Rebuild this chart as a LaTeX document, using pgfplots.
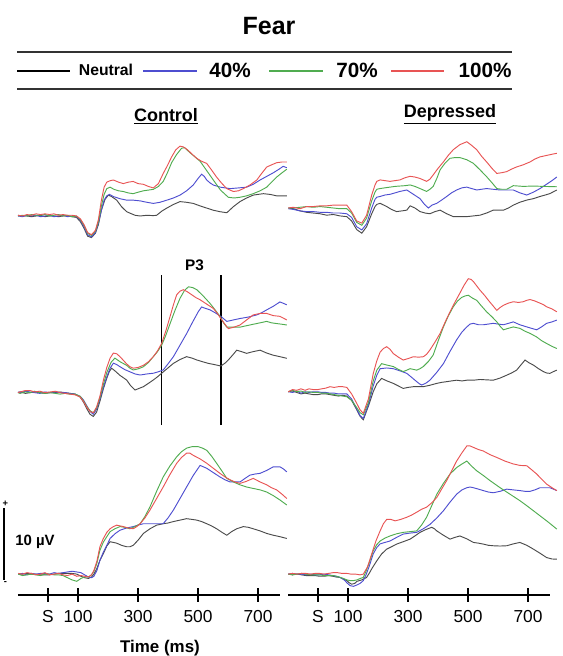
\documentclass[border=0pt]{standalone}
\usepackage{pgfplots}
\pgfplotsset{compat=1.18}
\usepackage{fontspec}
\setmainfont{Liberation Sans}
\definecolor{cred}{RGB}{232,84,84}
\definecolor{cgreen}{RGB}{80,172,80}
\definecolor{cblue}{RGB}{78,78,208}
\definecolor{cblack}{RGB}{75,75,75}
\pgfplotsset{
  panel/.style={x=0.225pt, y=5.4pt, xmin=-100, xmax=800, ymin=-5, ymax=20,
    hide axis, clip=false, anchor=south west},
  bpanel/.style={x=0.225pt, y=5.4pt, xmin=-100, xmax=773, ymin=-2.9, ymax=20,
    axis x line=bottom, axis y line=none, clip=false, anchor=south west,
    xtick={0,100,300,500,700}, xticklabels={S,100,300,500,700},
    tick align=center, major tick length=10pt,
    x axis line style={-, line width=0.9pt, black},
    every tick/.style={black, line width=0.9pt},
    xticklabel style={font=\fontsize{13}{15}\selectfont, anchor=center},
    xticklabel shift=11.3pt,
    /pgf/number format/assume math mode=true},
  rd/.style={cred, line width=0.7pt},
  gr/.style={cgreen, line width=0.7pt},
  bl/.style={cblue, line width=0.7pt},
  bk/.style={cblack, line width=0.7pt},
}
\begin{document}
\begin{tikzpicture}
\path[use as bounding box] (0,0) rectangle (421.5pt,492pt);
% title and legend
\node[font=\bfseries\fontsize{18.75}{22}\selectfont] at (201.75pt,472.5pt) {Fear};
\draw[line width=1.1pt, black!80] (12.75pt,453pt) -- (384pt,453pt);
\draw[line width=1.1pt, black!80] (12.75pt,425.25pt) -- (384pt,425.25pt);
\draw[line width=0.9pt, black] (12.75pt,438.75pt) -- (52.5pt,438.75pt);
\node[font=\bfseries\fontsize{11.8}{14}\selectfont] at (79.5pt,439.5pt) {Neutral};
\draw[line width=0.9pt, cblue] (107.25pt,438.75pt) -- (147.75pt,438.75pt);
\node[font=\bfseries\fontsize{15.5}{18}\selectfont] at (172.5pt,439.5pt) {40\%};
\draw[line width=0.9pt, cgreen] (201.75pt,438.75pt) -- (242.25pt,438.75pt);
\node[font=\bfseries\fontsize{15.5}{18}\selectfont] at (267.75pt,439.5pt) {70\%};
\draw[line width=0.9pt, cred] (293.25pt,438.75pt) -- (333pt,438.75pt);
\node[font=\bfseries\fontsize{15.5}{18}\selectfont] at (363.75pt,439.5pt) {100\%};
\node[font=\bfseries\fontsize{13.5}{16}\selectfont] at (124.5pt,405pt) {\underline{Control}};
\node[font=\bfseries\fontsize{13.5}{16}\selectfont] at (337.5pt,406.5pt) {\underline{Depressed}};

% ---------- Top left: Control row 1
\begin{axis}[panel, at={(13.5pt,303pt)}]
\addplot[bk] coordinates {(-100,0.1) (-85,0.0) (-70,0.0) (-55,-0.1) (-40,0.0) (-25,0.1) (-10,-0.1) (5,0.0) (20,0.0) (35,-0.1) (50,0.0) (65,0.0) (80,-0.1) (95,-0.2) (108,-0.8) (120,-1.7) (132,-2.8) (145,-3.0) (158,-2.4) (168,-1.2) (178,0.8) (190,2.3) (201,2.9) (212,2.7) (229,2.2) (245,1.3) (262,0.6) (273,0.4) (290,0.1) (307,0.0) (330,0.1) (351,0.05) (362,0.1) (380,0.7) (396,1.1) (418,1.6) (440,2.0) (462,1.9) (484,1.75) (507,1.4) (529,1.1) (551,0.8) (573,0.6) (596,0.45) (618,1.3) (640,2.0) (662,2.5) (684,2.9) (700,3.0) (718,3.1) (740,3.0) (762,2.8) (796,2.8)};
\addplot[bl] coordinates {(-100,0.0) (-85,-0.1) (-70,0.1) (-55,0.0) (-40,0.1) (-25,-0.1) (-10,0.0) (5,0.1) (20,-0.1) (35,0.0) (50,0.1) (65,-0.1) (80,0.0) (95,-0.1) (108,-0.6) (120,-1.5) (132,-2.6) (145,-2.9) (158,-2.3) (168,-1.0) (178,0.8) (187,2.2) (196,2.8) (205,3.0) (218,2.7) (240,2.4) (262,2.2) (284,2.2) (307,2.1) (330,1.9) (351,1.75) (373,1.9) (396,2.2) (418,2.5) (440,2.9) (462,3.5) (484,4.3) (500,5.2) (512,5.8) (521,5.5) (529,5.0) (540,4.6) (551,4.3) (575,4.0) (607,3.8) (635,3.9) (662,4.0) (684,4.4) (707,5.0) (729,5.5) (751,6.0) (770,6.5) (784,6.9) (796,6.7)};
\addplot[gr] coordinates {(-100,0.0) (-85,0.1) (-70,0.0) (-55,0.2) (-40,0.1) (-25,0.1) (-10,0.2) (5,0.0) (20,0.1) (35,0.2) (50,0.0) (65,0.1) (80,-0.1) (95,0.0) (108,-0.5) (120,-1.3) (132,-2.4) (145,-2.7) (158,-2.1) (168,-0.8) (178,1.4) (187,3.0) (196,3.8) (207,4.0) (220,3.7) (235,3.5) (251,3.4) (268,3.2) (284,3.1) (300,3.3) (318,3.5) (335,3.6) (351,3.7) (368,4.1) (384,4.8) (398,6.0) (412,7.4) (428,8.5) (445,9.4) (455,9.5) (473,8.8) (490,8.2) (507,7.6) (529,6.3) (551,5.0) (575,3.6) (601,2.6) (620,2.5) (640,2.6) (662,2.8) (684,3.1) (707,3.5) (729,4.0) (745,4.7) (762,5.4) (780,6.0) (796,6.5)};
\addplot[rd] coordinates {(-100,0.1) (-85,0.0) (-70,0.2) (-55,0.1) (-40,0.3) (-25,0.2) (-10,0.3) (5,0.2) (20,0.3) (35,0.1) (50,0.2) (65,0.1) (80,0.1) (95,0.0) (108,-0.4) (120,-1.2) (132,-2.3) (145,-2.6) (158,-2.0) (168,-0.5) (178,2.2) (187,4.0) (196,4.7) (207,4.9) (218,5.0) (235,4.7) (251,4.5) (268,4.7) (284,4.8) (300,4.5) (318,4.4) (335,4.1) (351,3.9) (368,4.5) (384,5.9) (398,7.0) (412,8.2) (426,9.2) (440,9.7) (451,9.6) (465,9.2) (480,8.6) (496,8.0) (512,7.6) (529,7.3) (545,6.4) (562,5.4) (580,4.5) (596,3.8) (618,3.4) (635,3.5) (651,3.8) (673,4.3) (696,5.0) (712,5.9) (729,6.8) (745,7.1) (762,7.4) (780,7.5) (796,7.5)};
\end{axis}

% ---------- Top right: Depressed row 1
\begin{axis}[panel, at={(216pt,309pt)}]
\addplot[bk] coordinates {(-99,0.0) (-82,-0.1) (-60,-0.4) (-38,-0.6) (-16,-0.7) (7,-0.8) (29,-1.0) (51,-0.9) (73,-1.1) (96,-1.2) (112,-1.8) (129,-3.0) (146,-3.5) (162,-2.6) (179,-0.8) (190,0.2) (196,0.5) (207,0.65) (229,0.2) (245,-0.2) (262,-0.5) (280,-0.4) (296,-0.3) (307,0.3) (323,0.0) (340,-0.5) (357,-0.7) (373,-0.8) (390,-0.5) (407,-0.3) (429,-0.8) (451,-1.2) (473,-1.2) (496,-1.2) (518,-1.1) (540,-1.0) (562,-0.7) (584,-0.3) (600,-0.3) (618,-0.3) (635,0.0) (651,0.4) (673,0.8) (696,1.1) (718,1.3) (740,1.6) (757,1.8) (773,2.0) (796,2.5)};
\addplot[bl] coordinates {(-99,-0.1) (-82,-0.2) (-60,-0.4) (-38,-0.5) (-16,-0.5) (7,-0.6) (29,-0.6) (51,-0.7) (73,-0.7) (96,-0.8) (112,-1.3) (129,-2.6) (146,-3.05) (162,-2.2) (179,0.0) (190,1.2) (196,1.5) (207,1.6) (223,1.8) (240,1.9) (257,2.1) (273,2.3) (296,2.5) (318,1.9) (340,1.3) (355,0.5) (368,0.0) (380,0.4) (396,0.65) (412,1.1) (429,1.6) (445,2.1) (462,2.5) (480,2.8) (496,2.9) (512,2.7) (529,2.5) (545,2.6) (562,2.7) (584,2.6) (607,2.5) (629,2.5) (651,2.5) (673,2.1) (696,1.8) (718,2.2) (740,2.7) (762,3.3) (780,3.8) (796,4.3)};
\addplot[gr] coordinates {(-99,0.0) (-82,0.0) (-60,0.1) (-38,0.2) (-16,0.1) (7,0.2) (29,0.1) (51,0.0) (73,-0.1) (96,-0.1) (112,-0.7) (129,-2.0) (146,-2.4) (162,-1.4) (179,1.0) (190,2.2) (196,2.6) (207,2.7) (223,2.8) (240,2.9) (257,3.0) (273,3.05) (290,3.1) (307,3.2) (323,3.0) (340,2.7) (351,2.5) (362,2.3) (373,2.6) (384,3.0) (396,4.1) (407,5.3) (423,6.2) (440,6.9) (456,7.0) (473,7.0) (496,6.7) (518,6.2) (540,5.3) (562,4.35) (580,3.5) (596,2.7) (612,2.6) (629,2.6) (651,3.1) (684,3.0) (718,3.05) (750,3.0) (796,2.95)};
\addplot[rd] coordinates {(-99,0.0) (-82,0.1) (-60,-0.1) (-38,0.2) (-16,0.2) (7,0.3) (29,0.3) (51,0.4) (73,0.4) (96,0.4) (112,-0.5) (129,-1.8) (146,-2.1) (162,-1.0) (179,1.8) (190,3.2) (196,3.7) (207,3.9) (223,3.8) (240,3.7) (257,3.8) (273,3.9) (290,4.2) (307,4.4) (323,4.3) (340,4.1) (351,3.9) (362,3.7) (373,4.0) (384,4.6) (400,5.5) (418,6.4) (434,7.3) (451,8.1) (473,8.8) (496,9.2) (512,8.7) (529,8.1) (545,7.2) (562,6.4) (580,5.5) (596,4.8) (612,4.9) (629,5.05) (645,5.4) (662,5.7) (684,6.0) (707,6.4) (723,6.8) (740,7.1) (762,7.3) (784,7.5) (796,7.6)};
\end{axis}

% ---------- Middle left: Control row 2
\begin{axis}[panel, at={(13.5pt,170.5pt)}]
\draw[line width=1.05pt, black] (axis cs:379,-4.5) -- (axis cs:379,16.3);
\draw[line width=1.05pt, black] (axis cs:576,-4.5) -- (axis cs:576,16.3);
\node[font=\bfseries\fontsize{11.5}{13}\selectfont] at (axis cs:488,17.7) {P3};
\addplot[bk] coordinates {(-100,0.0) (-93,0.1) (-75,-0.1) (-60,0.0) (-45,0.1) (-27,0.0) (-10,-0.1) (7,0.0) (25,0.0) (40,0.1) (57,0.0) (73,-0.1) (90,-0.2) (107,-0.6) (118,-1.3) (129,-2.2) (140,-3.0) (151,-3.3) (162,-2.7) (173,-1.2) (185,0.6) (196,2.0) (204,2.9) (212,3.4) (224,3.0) (240,2.4) (262,1.76) (275,1.0) (290,0.37) (304,0.6) (318,0.83) (335,1.3) (351,1.76) (365,2.2) (379,2.7) (396,3.3) (418,4.07) (440,4.6) (462,5.0) (480,4.8) (496,4.54) (515,4.3) (534,4.07) (555,3.9) (576,3.7) (590,4.1) (601,4.54) (615,5.2) (629,5.9) (645,5.7) (662,5.46) (684,5.7) (707,5.9) (729,5.5) (751,5.2) (773,5.0) (796,4.77)};
\addplot[bl] coordinates {(-100,0.1) (-93,0.0) (-75,0.2) (-60,0.1) (-45,0.0) (-27,-0.1) (-10,0.1) (7,0.0) (25,0.1) (40,0.0) (57,0.0) (73,-0.1) (90,-0.2) (107,-0.5) (118,-1.0) (129,-1.8) (140,-2.6) (151,-3.0) (162,-2.3) (173,-0.9) (185,0.8) (196,2.2) (207,3.4) (218,4.1) (229,3.9) (240,3.6) (256,3.2) (273,2.9) (290,2.6) (307,2.45) (330,2.6) (351,2.7) (368,2.9) (384,3.15) (400,4.0) (418,5.0) (440,6.6) (462,8.2) (482,9.8) (501,11.25) (512,11.9) (525,11.7) (540,11.5) (557,11.1) (576,10.6) (596,9.9) (618,10.1) (640,10.3) (668,10.5) (696,10.8) (712,11.1) (729,11.5) (751,12.0) (773,12.6) (785,12.4) (796,12.2)};
\addplot[gr] coordinates {(-100,0.0) (-93,-0.1) (-75,0.1) (-60,0.0) (-45,0.2) (-27,0.0) (-10,-0.1) (7,0.0) (25,-0.1) (40,-0.2) (57,-0.1) (73,-0.2) (90,-0.2) (107,-0.5) (118,-1.1) (129,-1.9) (140,-2.5) (151,-2.8) (162,-2.1) (173,-0.7) (185,1.2) (196,2.8) (210,4.2) (223,4.8) (240,4.3) (262,3.8) (273,3.4) (284,3.15) (300,3.3) (318,3.6) (335,4.2) (351,5.0) (365,5.7) (379,6.6) (393,8.0) (407,9.6) (423,11.4) (440,13.1) (455,14.2) (468,14.7) (482,14.6) (496,14.3) (518,13.4) (540,12.4) (557,11.5) (573,10.6) (585,9.7) (596,9.1) (618,9.1) (640,9.1) (662,9.3) (684,9.5) (707,9.7) (729,9.9) (745,9.7) (762,9.6) (780,9.5) (796,9.4)};
\addplot[rd] coordinates {(-100,0.0) (-93,0.1) (-75,0.3) (-60,0.3) (-45,0.1) (-27,0.2) (-10,0.0) (7,0.1) (25,0.2) (40,0.0) (57,-0.1) (73,-0.2) (90,-0.3) (107,-0.6) (118,-1.2) (129,-2.0) (140,-2.6) (151,-2.8) (162,-2.0) (173,-0.5) (185,1.8) (196,3.5) (207,4.8) (218,5.5) (229,5.4) (240,5.0) (251,4.5) (262,4.0) (273,3.6) (284,3.4) (300,3.5) (318,3.8) (335,4.3) (351,5.0) (365,5.8) (379,6.85) (393,8.6) (407,10.6) (418,12.2) (429,13.6) (440,14.1) (451,14.3) (465,14.0) (479,13.6) (493,13.2) (507,12.9) (529,12.3) (551,11.7) (563,11.1) (576,10.3) (590,9.5) (601,8.9) (620,9.1) (640,9.4) (662,10.1) (684,10.8) (707,11.0) (729,11.0) (751,10.7) (773,10.6) (796,10.1)};
\end{axis}

% ---------- Middle right: Depressed row 2
\begin{axis}[panel, at={(216pt,171.2pt)}]
\addplot[bk] coordinates {(-99,0.0) (-85,0.1) (-71,-0.1) (-57,-0.3) (-43,-0.2) (-30,-0.3) (-16,-0.4) (0,-0.4) (12,-0.3) (26,-0.3) (40,-0.4) (54,-0.5) (68,-0.6) (82,-0.5) (96,-0.6) (112,-1.2) (129,-2.5) (140,-3.4) (151,-3.9) (168,-2.0) (184,0.0) (196,1.1) (212,1.85) (230,1.5) (251,1.16) (268,0.8) (284,0.46) (300,0.6) (318,0.7) (335,0.7) (351,0.7) (373,0.9) (396,1.16) (412,1.3) (429,1.4) (445,1.5) (462,1.6) (480,1.5) (496,1.6) (518,1.6) (540,1.7) (562,1.65) (584,1.6) (607,1.9) (629,2.3) (645,2.6) (662,3.0) (676,3.7) (690,4.4) (704,4.0) (718,3.7) (735,3.2) (751,2.8) (762,2.6) (773,2.55) (785,2.8) (796,3.0)};
\addplot[bl] coordinates {(-99,0.0) (-85,-0.1) (-71,0.1) (-57,-0.2) (-43,0.0) (-30,-0.1) (-16,0.0) (0,0.0) (12,-0.1) (26,-0.1) (40,-0.2) (54,-0.2) (68,-0.3) (82,-0.3) (96,-0.3) (112,-1.0) (129,-2.4) (140,-3.3) (151,-3.7) (168,-1.8) (184,0.8) (196,2.3) (207,3.2) (229,3.3) (251,3.2) (273,2.9) (296,2.55) (312,2.0) (329,1.4) (338,1.1) (346,0.93) (360,1.2) (373,1.6) (396,2.7) (418,3.9) (440,5.6) (462,7.2) (480,8.3) (496,9.0) (507,9.4) (518,9.5) (535,9.3) (551,9.3) (568,9.4) (584,9.5) (600,9.4) (618,9.3) (635,9.5) (651,9.7) (673,9.3) (696,9.0) (712,8.8) (729,8.6) (745,9.0) (762,9.5) (780,9.7) (796,9.95)};
\addplot[gr] coordinates {(-99,0.0) (-85,0.2) (-71,0.0) (-57,0.1) (-43,-0.1) (-30,0.0) (-16,-0.1) (0,-0.1) (12,-0.2) (26,-0.2) (40,-0.3) (54,-0.4) (68,-0.5) (82,-0.6) (96,-0.7) (112,-1.2) (129,-2.2) (140,-2.9) (151,-3.2) (168,-1.5) (184,1.5) (196,3.0) (212,3.9) (230,3.7) (251,3.5) (268,3.1) (284,2.8) (296,3.0) (307,3.2) (318,3.1) (329,3.0) (340,3.2) (351,3.5) (368,4.2) (384,5.1) (400,7.0) (418,9.0) (434,10.5) (451,11.8) (465,12.6) (479,13.1) (490,13.3) (501,13.4) (515,13.0) (529,12.7) (545,11.9) (562,11.1) (580,10.4) (596,9.7) (607,9.1) (618,8.6) (634,8.8) (651,9.0) (662,8.9) (673,8.8) (690,8.4) (707,8.1) (729,7.6) (745,7.1) (762,6.7) (780,6.3) (796,6.0)};
\addplot[rd] coordinates {(-99,0.0) (-85,0.3) (-71,0.2) (-57,0.4) (-43,0.2) (-30,0.4) (-16,0.3) (0,0.3) (12,0.4) (26,0.5) (40,0.7) (54,0.6) (68,0.7) (82,0.7) (96,0.6) (112,-0.3) (129,-1.6) (140,-2.5) (151,-3.0) (168,-1.0) (184,2.5) (196,4.3) (207,5.5) (218,6.0) (229,6.25) (240,5.9) (251,5.3) (268,4.8) (284,4.4) (300,4.6) (318,4.86) (335,4.8) (351,4.86) (362,5.2) (373,5.8) (390,6.9) (407,8.1) (423,9.6) (440,11.1) (456,12.4) (473,13.7) (487,14.8) (501,15.7) (510,15.6) (518,15.3) (529,14.7) (540,14.1) (555,13.4) (568,12.7) (582,12.0) (596,11.3) (607,11.7) (618,12.0) (634,12.3) (651,12.5) (668,12.4) (684,12.5) (696,12.7) (707,12.8) (723,12.6) (740,12.3) (751,12.1) (762,11.8) (780,11.5) (796,11.1)};
\end{axis}

% ---------- Bottom left: Control row 3
\begin{axis}[bpanel, at={(13.5pt,45.75pt)}]
\addplot[bk] coordinates {(-99,0.0) (-85,0.0) (-70,0.1) (-55,0.0) (-40,0.0) (-25,-0.1) (-10,-0.1) (5,-0.1) (20,0.0) (35,0.1) (50,0.1) (65,0.1) (80,0.1) (96,0.0) (110,-0.3) (122,-0.5) (135,-0.6) (145,-0.4) (153,0.0) (163,0.8) (173,1.9) (184,2.8) (196,3.9) (207,4.5) (218,4.4) (229,4.3) (245,4.0) (262,3.8) (273,3.8) (284,4.0) (300,4.7) (318,5.65) (340,6.3) (362,6.8) (384,7.0) (400,7.1) (418,7.3) (440,7.5) (462,7.7) (480,7.6) (496,7.5) (512,7.3) (529,7.0) (545,6.7) (562,6.3) (580,5.8) (596,5.4) (612,5.9) (629,6.3) (651,6.6) (668,6.5) (684,6.3) (707,6.0) (729,5.65) (751,5.4) (773,5.2) (796,4.95)};
\addplot[bl] coordinates {(-99,0.0) (-85,0.1) (-70,-0.1) (-55,0.1) (-40,0.0) (-25,0.1) (-10,0.1) (5,0.0) (20,0.2) (35,0.1) (50,0.2) (65,0.3) (80,0.4) (96,0.3) (110,0.2) (122,-0.1) (135,-0.4) (145,-0.5) (153,-0.3) (163,0.5) (173,1.9) (184,3.0) (196,4.0) (207,4.95) (223,5.6) (240,6.1) (262,6.4) (284,6.6) (300,6.8) (318,7.0) (340,7.0) (362,7.0) (384,7.0) (400,7.8) (418,8.9) (440,10.5) (462,12.1) (484,13.7) (507,15.1) (518,14.9) (529,14.7) (551,14.1) (573,13.5) (590,13.1) (607,12.8) (623,12.8) (640,12.8) (657,13.3) (673,13.75) (690,13.9) (707,14.0) (729,14.4) (751,14.9) (773,14.9) (785,14.6) (796,14.2)};
\addplot[gr] coordinates {(-99,0.0) (-85,-0.2) (-70,-0.1) (-55,0.0) (-40,-0.1) (-25,-0.2) (-10,0.0) (5,0.0) (20,-0.1) (35,-0.1) (50,-0.2) (65,-0.5) (80,-0.8) (96,-1.0) (110,-0.6) (122,-0.4) (135,-0.4) (145,-0.1) (153,0.4) (163,1.5) (173,3.3) (184,4.4) (196,5.2) (207,5.9) (223,6.3) (240,6.6) (256,6.5) (273,6.3) (290,6.6) (307,7.0) (323,8.0) (340,9.35) (362,11.5) (384,13.5) (406,15.0) (429,16.3) (445,17.0) (462,17.5) (480,17.7) (501,17.7) (515,17.5) (529,17.2) (545,16.4) (562,15.4) (580,14.3) (596,13.3) (618,12.8) (640,12.4) (662,12.1) (684,11.9) (707,11.7) (729,11.4) (751,10.9) (773,10.3) (796,9.6)};
\addplot[rd] coordinates {(-99,0.1) (-85,0.0) (-70,0.2) (-55,0.1) (-40,-0.1) (-25,0.0) (-10,0.2) (5,-0.1) (20,0.0) (35,0.1) (50,-0.1) (65,-0.2) (80,0.0) (96,-0.3) (110,-0.2) (122,-0.3) (135,-0.4) (145,-0.1) (153,0.5) (163,1.8) (173,3.8) (184,4.9) (196,5.8) (207,6.3) (218,6.6) (229,6.8) (240,6.7) (251,6.6) (268,6.4) (284,6.3) (296,6.6) (307,7.0) (323,7.8) (340,8.9) (362,10.5) (384,12.1) (406,13.8) (429,15.4) (445,16.2) (462,16.8) (473,16.8) (484,16.5) (507,16.0) (529,15.4) (551,14.7) (573,14.0) (590,13.5) (607,13.1) (623,12.8) (640,12.6) (662,12.9) (684,13.3) (707,12.8) (729,12.4) (745,12.0) (762,11.7) (780,11.1) (796,10.5)};
\end{axis}

% ---------- Bottom right: Depressed row 3
\begin{axis}[bpanel, at={(216pt,45.75pt)}]
\addplot[bk] coordinates {(-99,0.0) (-85,-0.1) (-70,0.0) (-55,-0.1) (-40,-0.2) (-25,-0.2) (-10,-0.2) (5,-0.3) (20,-0.3) (35,-0.2) (50,-0.3) (60,-0.4) (73,-0.46) (85,-0.7) (96,-0.9) (104,-1.2) (112,-1.4) (122,-1.3) (130,-1.0) (146,-0.8) (162,-0.46) (172,0.2) (180,0.8) (196,1.85) (212,2.8) (229,3.47) (245,3.8) (262,4.17) (284,4.5) (307,4.86) (323,5.3) (340,5.8) (360,6.2) (379,6.5) (388,6.3) (396,6.0) (418,5.4) (440,4.86) (456,5.1) (473,5.3) (496,4.9) (518,4.4) (535,4.3) (551,4.17) (568,4.0) (584,3.94) (607,3.9) (629,3.94) (651,4.2) (673,4.4) (696,4.0) (718,3.47) (740,2.9) (762,2.3) (780,2.1) (796,2.08)};
\addplot[bl] coordinates {(-99,0.0) (-85,0.1) (-70,0.0) (-55,0.0) (-40,-0.1) (-25,0.0) (-10,-0.1) (5,-0.1) (20,0.0) (35,-0.1) (50,-0.2) (60,-0.3) (70,-0.4) (80,-0.6) (90,-0.9) (96,-1.2) (107,-1.6) (118,-1.7) (130,-1.5) (140,-1.3) (151,-0.9) (160,-0.1) (170,1.0) (184,2.8) (196,3.7) (207,4.2) (223,4.4) (240,4.6) (262,5.1) (284,5.56) (307,5.7) (329,5.8) (351,6.3) (373,6.9) (396,7.8) (418,8.8) (440,10.0) (462,11.1) (480,11.7) (496,12.0) (507,12.1) (518,12.0) (535,11.8) (551,11.6) (568,11.4) (584,11.3) (607,11.5) (629,11.8) (651,11.7) (673,11.6) (690,11.5) (707,11.5) (723,11.7) (740,12.0) (757,12.0) (773,12.0) (785,11.8) (796,11.6)};
\addplot[gr] coordinates {(-99,0.0) (-85,-0.1) (-70,0.0) (-55,0.1) (-40,0.0) (-25,-0.1) (-10,-0.1) (5,-0.1) (20,-0.2) (35,-0.2) (50,-0.2) (62,-0.3) (73,-0.45) (85,-0.6) (96,-0.8) (107,-0.9) (118,-0.9) (130,-0.8) (141,-0.6) (151,-0.46) (160,0.4) (170,1.5) (184,3.24) (196,4.1) (207,4.6) (223,5.0) (240,5.3) (262,5.6) (284,5.8) (307,5.9) (329,6.0) (345,6.8) (362,7.9) (379,9.5) (396,11.1) (418,12.6) (440,13.9) (462,14.8) (480,15.3) (496,15.7) (512,15.0) (529,14.35) (551,13.7) (573,13.0) (590,12.5) (607,12.0) (640,11.1) (673,10.2) (696,9.5) (718,8.8) (740,8.1) (762,7.4) (780,6.8) (796,6.25)};
\addplot[rd] coordinates {(-99,0.0) (-85,0.1) (-70,0.0) (-55,0.1) (-40,0.1) (-25,0.0) (-10,0.1) (5,0.1) (20,0.0) (35,0.1) (50,0.2) (65,0.2) (80,0.1) (96,0.1) (110,0.0) (125,0.0) (140,-0.1) (151,0.0) (165,1.0) (179,2.8) (193,4.6) (207,6.0) (218,7.0) (229,7.6) (243,7.6) (257,7.4) (276,7.6) (296,7.9) (312,8.2) (329,8.6) (345,9.0) (362,9.3) (379,9.9) (396,10.65) (412,11.8) (429,13.0) (445,14.3) (462,15.7) (479,16.8) (496,17.8) (507,17.8) (518,17.6) (535,17.3) (551,17.1) (573,16.6) (596,16.2) (623,15.7) (651,15.3) (673,15.1) (696,15.05) (712,14.5) (729,13.9) (745,13.2) (762,12.5) (780,12.0) (796,11.6)};
\end{axis}

% scale bar and axis title
\draw[line width=0.8pt, black] (3pt,57pt) -- (3pt,111pt);
\node[font=\bfseries\fontsize{7}{8}\selectfont, inner sep=0pt] at (4pt,114pt) {+};
\node[font=\bfseries\fontsize{7}{8}\selectfont, inner sep=0pt] at (4pt,54.5pt) {-};
\node[font=\bfseries\fontsize{11.2}{13}\selectfont] at (26.25pt,85.5pt) {10 µV};
\node[font=\bfseries\fontsize{12.7}{15}\selectfont] at (120pt,5.6pt) {Time (ms)};
\end{tikzpicture}
\end{document}
